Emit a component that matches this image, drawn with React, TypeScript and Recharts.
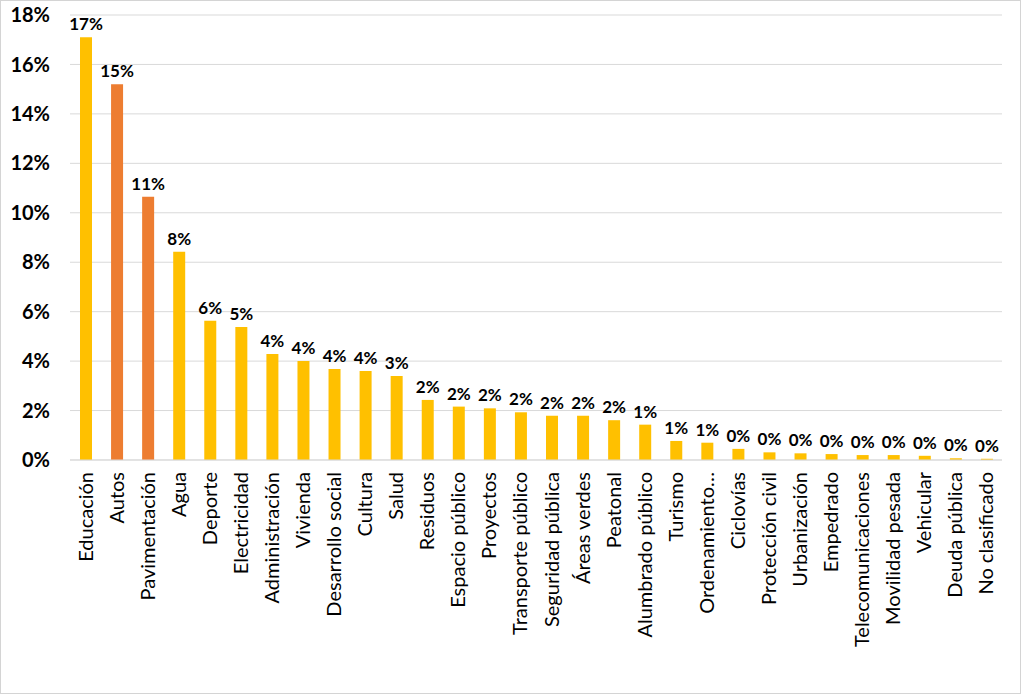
import { BarChart, Bar, XAxis, YAxis, CartesianGrid, Cell, LabelList } from 'recharts';

const categories = [
  'Educación', 'Autos', 'Pavimentación', 'Agua', 'Deporte', 'Electricidad', 'Administración',
  'Vivienda', 'Desarrollo social', 'Cultura', 'Salud', 'Residuos', 'Espacio público', 'Proyectos',
  'Transporte público', 'Seguridad pública', 'Áreas verdes', 'Peatonal', 'Alumbrado público',
  'Turismo', 'Ordenamiento…', 'Ciclovías', 'Protección civil', 'Urbanización', 'Empedrado',
  'Telecomunicaciones', 'Movilidad pesada', 'Vehicular', 'Deuda pública', 'No clasificado',
];

const shares = [
  17.1, 15.2, 10.65, 8.42, 5.63, 5.38, 4.29, 4.0, 3.68, 3.6, 3.4, 2.43, 2.16, 2.09, 1.93, 1.79,
  1.79, 1.61, 1.43, 0.77, 0.7, 0.45, 0.31, 0.27, 0.24, 0.2, 0.2, 0.17, 0.07, 0.05,
];

const highlighted = ['Autos', 'Pavimentación'];

const yTicks = [0, 2, 4, 6, 8, 10, 12, 14, 16, 18];

const data = categories.map((name, i) => ({ name, value: shares[i] }));

const FONT = 'Lato, "Open Sans", sans-serif';

function CategoryTick({ x, y, payload }: any) {
  return (
    <text
      x={0}
      y={0}
      transform={`translate(${x + 7}, ${y + 4}) rotate(-90)`}
      textAnchor="end"
      fontFamily={FONT}
      fontSize={20}
      fill="#000"
    >
      {payload.value}
    </text>
  );
}

export default function App() {
  return (
    <div
      style={{
        position: 'absolute',
        left: 0,
        top: 0,
        width: 1021,
        height: 694,
        border: '1px solid #d4d4d4',
        boxSizing: 'border-box',
        background: '#fff',
        overflow: 'hidden',
      }}
    >
      <div style={{ position: 'absolute', left: -1, top: -1 }}>
        <BarChart
          width={1024}
          height={696}
          data={data}
          margin={{ top: 15, right: 22, left: 0, bottom: 0 }}
          barSize={12}
        >
          <CartesianGrid vertical={false} stroke="#d9d9d9" />
          <XAxis
            dataKey="name"
            interval={0}
            height={236}
            tickLine={false}
            axisLine={{ stroke: '#d9d9d9' }}
            tick={<CategoryTick />}
          />
          <YAxis
            width={70}
            domain={[0, 18]}
            ticks={yTicks}
            axisLine={false}
            tickLine={false}
            tickSize={6}
            tickMargin={14}
            tickFormatter={(v: number) => `${v}%`}
            tick={{ fontFamily: FONT, fontSize: 20, fontWeight: 700, fill: '#000' }}
          />
          <Bar dataKey="value" isAnimationActive={false}>
            {data.map((d) => (
              <Cell key={d.name} fill={highlighted.includes(d.name) ? '#ED7D31' : '#FFC000'} />
            ))}
            <LabelList
              dataKey="value"
              position="top"
              offset={7}
              formatter={(v: any) => `${Math.round(Number(v))}%`}
              style={{ fontFamily: FONT, fontSize: 17, fontWeight: 700, fill: '#000' }}
            />
          </Bar>
        </BarChart>
      </div>
    </div>
  );
}
